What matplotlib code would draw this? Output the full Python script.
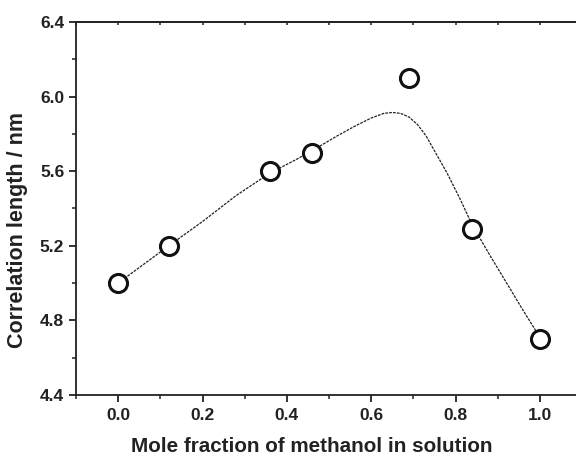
import matplotlib
matplotlib.use("Agg")
import matplotlib.pyplot as plt
from matplotlib.ticker import MultipleLocator, FormatStrFormatter

# Measured data points
x_pts = [0.0, 0.12, 0.36, 0.46, 0.69, 0.84, 1.0]
y_pts = [5.0, 5.2, 5.6, 5.7, 6.1, 5.29, 4.7]

# Fitted curve
x_fit = [0.00, 0.06, 0.12, 0.20, 0.28, 0.36, 0.42, 0.46, 0.52, 0.56, 0.60,
         0.63, 0.65, 0.67, 0.69, 0.71, 0.73, 0.75, 0.78, 0.81, 0.84, 0.88,
         0.92, 0.96, 1.00]
y_fit = [5.00, 5.10, 5.20, 5.33, 5.47, 5.59, 5.66, 5.71, 5.79, 5.84, 5.885,
         5.91, 5.915, 5.91, 5.89, 5.85, 5.79, 5.71, 5.59, 5.455, 5.31, 5.155,
         5.005, 4.855, 4.71]

x_ticks = [0.0, 0.2, 0.4, 0.6, 0.8, 1.0]
y_ticks = [4.4, 4.8, 5.2, 5.6, 6.0, 6.4]

plt.rcParams['font.family'] = ['Liberation Sans', 'DejaVu Sans']
plt.rcParams['font.weight'] = 'bold'

fig = plt.figure(figsize=(5.76, 4.58), dpi=100)
ax = fig.add_axes([76/576, 63/458, (582-76)/576, 373/458])

ax.plot(x_fit, y_fit, color='#222222', lw=0.9, ls=(0, (2.2, 0.9)), zorder=2)
ax.plot(x_pts, y_pts, ls='none', marker='o', ms=13, mfc='white',
        mec='#111111', mew=2.2, zorder=3)

ax.set_xlim(-0.1, 1.1)
ax.set_ylim(4.4, 6.4)
ax.set_xticks(x_ticks)
ax.set_yticks(y_ticks)
ax.xaxis.set_major_formatter(FormatStrFormatter('%.1f'))
ax.yaxis.set_major_formatter(FormatStrFormatter('%.1f'))
ax.xaxis.set_minor_locator(MultipleLocator(0.1))
ax.yaxis.set_minor_locator(MultipleLocator(0.2))

for s in ax.spines.values():
    s.set_linewidth(1.3)
    s.set_color('#222222')

ax.tick_params(axis='both', which='major', direction='out', length=5, width=1.3,
               labelsize=12.5, colors='#222222')
ax.tick_params(axis='both', which='minor', direction='out', length=3, width=1.1,
               colors='#222222')
ax.tick_params(axis='x', which='major', pad=4.5)
ax.tick_params(axis='y', which='major', pad=3.5)
for lab in ax.get_xticklabels() + ax.get_yticklabels():
    lab.set_fontweight('bold')

# top axis: inward ticks, no labels
top = ax.secondary_xaxis('top')
top.set_xticks(x_ticks)
top.xaxis.set_minor_locator(MultipleLocator(0.1))
top.tick_params(which='both', direction='in', length=2.5, width=1.1,
                labeltop=False, colors='#222222')
top.spines['top'].set_linewidth(1.3)
top.spines['top'].set_color('#222222')

ax.set_xlabel('Mole fraction of methanol in solution', fontsize=14.9,
              fontweight='bold', color='#222222')
ax.xaxis.set_label_coords((312 - 76) / 506, (21.5 - 63) / 373)
ax.set_ylabel('Correlation length / nm', fontsize=15.5,
              fontweight='bold', color='#222222')
ax.yaxis.set_label_coords((28 - 76) / 506, (228 - 63) / 373)

fig.savefig('out.png', dpi=100)
